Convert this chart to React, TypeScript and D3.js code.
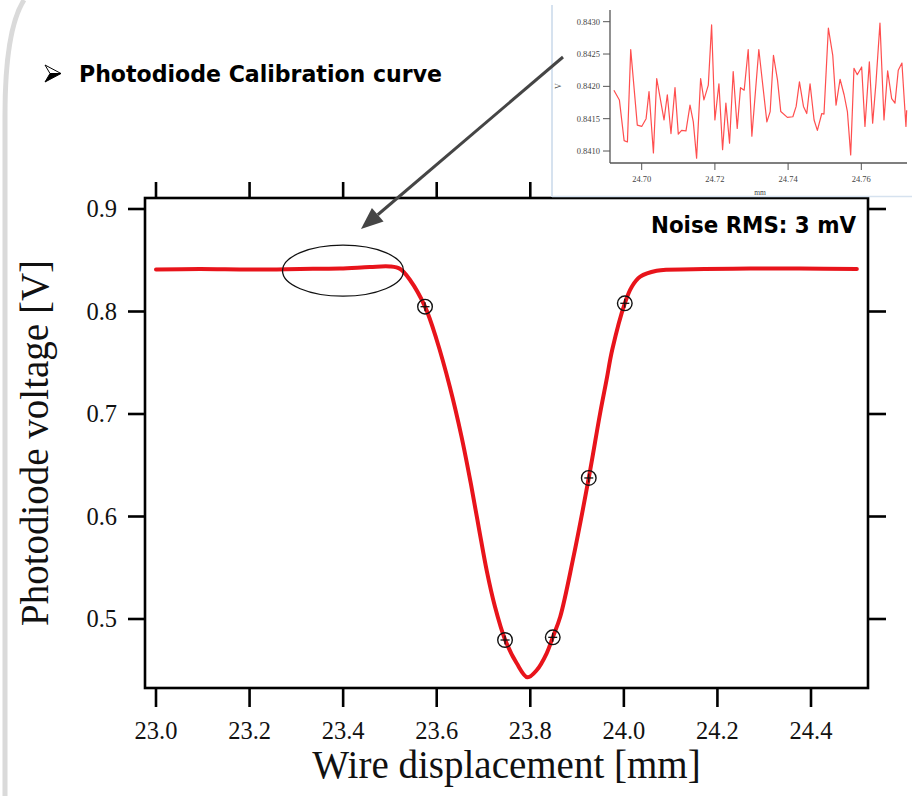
import React from "react";
import * as d3 from "d3";

// ---------- Main calibration curve ----------
const curveX = [23.0, 23.094, 23.201, 23.308, 23.393, 23.457, 23.5, 23.522, 23.543, 23.575, 23.6, 23.628, 23.653, 23.673, 23.69, 23.707, 23.724, 23.746, 23.771, 23.794, 23.814, 23.835, 23.848, 23.864, 23.891, 23.925, 23.949, 23.963, 23.975, 24.002, 24.017, 24.035, 24.07, 24.148, 24.27, 24.376, 24.498];
const curveV = [0.841, 0.8415, 0.841, 0.8415, 0.842, 0.8434, 0.8439, 0.8415, 0.8307, 0.8047, 0.7722, 0.7266, 0.678, 0.632, 0.589, 0.547, 0.513, 0.48, 0.4568, 0.4431, 0.4502, 0.4665, 0.4821, 0.5022, 0.5576, 0.6376, 0.7, 0.7332, 0.7624, 0.808, 0.8242, 0.834, 0.8398, 0.8412, 0.842, 0.842, 0.8415];

// calibration markers
const markerX = [23.575, 23.746, 23.848, 23.925, 24.002];
const markerV = [0.8047, 0.4795, 0.4821, 0.6376, 0.808];

const xTicks = [23.0, 23.2, 23.4, 23.6, 23.8, 24.0, 24.2, 24.4];
const yTicks = [0.5, 0.6, 0.7, 0.8, 0.9];

// ---------- Inset: noise zoom ----------
const insetX = [24.6924, 24.6939, 24.6952, 24.6961, 24.697, 24.6988, 24.7, 24.7012, 24.702, 24.7032, 24.7041, 24.7061, 24.707, 24.708, 24.7091, 24.71, 24.7109, 24.7121, 24.7132, 24.7141, 24.715, 24.7161, 24.717, 24.7182, 24.7191, 24.72, 24.7211, 24.7221, 24.723, 24.724, 24.725, 24.7261, 24.727, 24.728, 24.7291, 24.7301, 24.732, 24.7342, 24.7351, 24.736, 24.7371, 24.738, 24.7398, 24.7413, 24.7422, 24.7431, 24.7442, 24.7451, 24.746, 24.7471, 24.748, 24.7492, 24.7498, 24.751, 24.7522, 24.7531, 24.7542, 24.7553, 24.7562, 24.7571, 24.758, 24.7589, 24.7601, 24.761, 24.7622, 24.7631, 24.764, 24.7651, 24.7662, 24.7672, 24.7683, 24.7692, 24.7701, 24.7711, 24.7722, 24.7724];
const insetV = [0.84194, 0.84179, 0.84116, 0.84114, 0.84257, 0.8414, 0.84138, 0.8415, 0.84192, 0.84097, 0.84212, 0.84148, 0.84187, 0.84127, 0.84198, 0.84126, 0.84132, 0.84131, 0.84171, 0.84145, 0.84089, 0.84212, 0.84179, 0.84202, 0.84295, 0.84148, 0.84204, 0.84102, 0.84174, 0.84112, 0.84223, 0.84135, 0.84198, 0.84194, 0.84257, 0.84123, 0.84257, 0.84145, 0.84161, 0.84248, 0.8421, 0.84161, 0.84152, 0.84153, 0.84169, 0.84207, 0.84169, 0.84158, 0.84204, 0.84148, 0.84132, 0.84158, 0.84157, 0.8429, 0.84248, 0.84171, 0.84211, 0.84187, 0.84161, 0.84094, 0.84228, 0.84218, 0.8423, 0.84138, 0.84238, 0.84143, 0.84205, 0.84298, 0.84148, 0.84224, 0.84181, 0.84174, 0.84225, 0.84236, 0.84138, 0.84163];
const insetXTicks = [24.7, 24.72, 24.74, 24.76];
const insetYTicks = [0.841, 0.8415, 0.842, 0.8425, 0.843];

const title = "Photodiode Calibration curve";
const noiseLabel = "Noise RMS: 3 mV";
const xTitle = "Wire displacement [mm]";
const yTitle = "Photodiode voltage [V]";

export default function App() {
  const W = 912, H = 796;
  const L = 145, R = 868, T = 198, B = 688;
  const x = d3.scaleLinear().domain([23.0, 24.4]).range([156, 811]);
  const y = d3.scaleLinear().domain([0.5, 0.9]).range([619, 209]);

  const line = d3
    .line<number>()
    .x((_, i) => x(curveX[i]))
    .y((v) => y(v))
    .curve(d3.curveCatmullRom.alpha(0.5));

  const ix = d3.scaleLinear().domain([24.7, 24.76]).range([641.7, 861.3]);
  const iy = d3.scaleLinear().domain([0.841, 0.843]).range([151, 21.7]);
  const iLine = d3
    .line<number>()
    .x((_, i) => ix(insetX[i]))
    .y((v) => iy(v));

  const serif = "'Liberation Serif', 'Times New Roman', serif";
  const sans = "'DejaVu Sans', Verdana, sans-serif";
  const fmt1 = d3.format(".1f");

  const arrowStart = [563, 57];
  const arrowTip = [361, 229];
  const ang = Math.atan2(arrowTip[1] - arrowStart[1], arrowTip[0] - arrowStart[0]);
  const ahL = 22, ahW = 9;
  const baseX = arrowTip[0] - ahL * Math.cos(ang);
  const baseY = arrowTip[1] - ahL * Math.sin(ang);
  const px = -Math.sin(ang), py = Math.cos(ang);

  return (
    <svg width={W} height={H} style={{ position: "absolute", left: 0, top: 0, background: "#fff" }}>
      <rect x={0} y={0} width={W} height={H} fill="#fff" />
      {/* slide border decoration */}
      <path d="M 24 0 Q 5 30 5 115 L 5 796" fill="none" stroke="#dadada" strokeWidth={5} />

      {/* title with bullet */}
      <path d="M 45 65 L 61 73.5 L 50 73.5 Z" fill="#fff" stroke="#000" strokeWidth={1} />
      <path d="M 50 73.5 L 61 73.5 L 45 82 Z" fill="#000" stroke="#000" strokeWidth={1} />
      <text x={79} y={82} fontFamily={sans} fontWeight="bold" fontSize={22.5} textLength={363} lengthAdjust="spacingAndGlyphs" fill="#000">
        {title}
      </text>

      {/* main frame */}
      <rect x={L} y={T} width={R - L} height={B - T} fill="none" stroke="#000" strokeWidth={2.6} />

      {/* bottom & top ticks */}
      {xTicks.map((t) => (
        <g key={"xt" + t}>
          <line x1={x(t)} x2={x(t)} y1={B} y2={B + 19} stroke="#000" strokeWidth={2.6} />
          <line x1={x(t)} x2={x(t)} y1={T} y2={T - 16} stroke="#000" strokeWidth={2.6} />
          <text x={x(t)} y={739} textAnchor="middle" fontFamily={serif} fontSize={24.5} fill="#111">
            {fmt1(t)}
          </text>
        </g>
      ))}
      {/* left & right ticks */}
      {yTicks.map((t) => (
        <g key={"yt" + t}>
          <line x1={L} x2={L - 17} y1={y(t)} y2={y(t)} stroke="#000" strokeWidth={2.6} />
          <line x1={R} x2={R + 18} y1={y(t)} y2={y(t)} stroke="#000" strokeWidth={2.6} />
          <text x={117} y={y(t) + 8} textAnchor="end" fontFamily={serif} fontSize={24.5} fill="#111">
            {fmt1(t)}
          </text>
        </g>
      ))}

      {/* axis titles */}
      <text x={(L + R) / 2} y={778} textAnchor="middle" fontFamily={serif} fontSize={39} fill="#111">
        {xTitle}
      </text>
      <text transform={`translate(48, ${(T + B) / 2}) rotate(-90)`} textAnchor="middle" fontFamily={serif} fontSize={39} fill="#111">
        {yTitle}
      </text>

      {/* curve */}
      <path d={line(curveV) || ""} fill="none" stroke="#e8141b" strokeWidth={4} strokeLinejoin="round" strokeLinecap="round" />

      {/* markers */}
      {markerX.map((mx, i) => (
        <g key={"m" + i} transform={`translate(${x(mx)}, ${y(markerV[i])})`}>
          <circle r={7.3} fill="none" stroke="#111" strokeWidth={1.4} />
          <line x1={-4.5} x2={4.5} y1={0} y2={0} stroke="#111" strokeWidth={1.3} />
          <line x1={0} x2={0} y1={-4.5} y2={4.5} stroke="#111" strokeWidth={1.3} />
        </g>
      ))}

      {/* noise ellipse */}
      <ellipse cx={343} cy={270.7} rx={60.5} ry={25.5} fill="none" stroke="#111" strokeWidth={1.3} />

      {/* noise label */}
      <text x={856} y={233} textAnchor="end" fontFamily={sans} fontWeight="bold" fontSize={22.5} textLength={205} lengthAdjust="spacingAndGlyphs" fill="#000">
        {noiseLabel}
      </text>

      {/* inset */}
      <g>
        <rect x={552} y={0} width={360} height={197} fill="#fff" />
        <line x1={552} x2={552} y1={5} y2={197} stroke="#d6e2ef" strokeWidth={2} />
        <line x1={552} x2={912} y1={196.5} y2={196.5} stroke="#d6e2ef" strokeWidth={1.5} />
        <line x1={610} x2={610} y1={10} y2={163} stroke="#555" strokeWidth={1.3} />
        <line x1={610} x2={907} y1={163} y2={163} stroke="#555" strokeWidth={1.3} />
        {insetYTicks.map((t) => (
          <g key={"iy" + t}>
            <line x1={603} x2={610} y1={iy(t)} y2={iy(t)} stroke="#555" strokeWidth={1} />
            <text x={600} y={iy(t) + 3} textAnchor="end" fontFamily={serif} fontSize={8.5} fill="#444">
              {d3.format(".4f")(t)}
            </text>
          </g>
        ))}
        {insetXTicks.map((t) => (
          <g key={"ix" + t}>
            <line x1={ix(t)} x2={ix(t)} y1={163} y2={170} stroke="#555" strokeWidth={1} />
            <text x={ix(t)} y={182} textAnchor="middle" fontFamily={serif} fontSize={8.5} fill="#444">
              {d3.format(".2f")(t)}
            </text>
          </g>
        ))}
        <text x={760} y={195} textAnchor="middle" fontFamily={serif} fontSize={7.5} fill="#444">mm</text>
        <text transform="translate(561, 86) rotate(-90)" textAnchor="middle" fontFamily={serif} fontSize={8} fill="#444">V</text>
        <path d={iLine(insetV) || ""} fill="none" stroke="#ff3b3b" strokeWidth={1.2} strokeLinejoin="round" opacity={0.9} />
      </g>

      {/* arrow */}
      <line x1={arrowStart[0]} y1={arrowStart[1]} x2={baseX} y2={baseY} stroke="#454545" strokeWidth={3} />
      <path
        d={`M ${arrowTip[0]} ${arrowTip[1]} L ${baseX + px * ahW} ${baseY + py * ahW} L ${baseX - px * ahW} ${baseY - py * ahW} Z`}
        fill="#454545"
      />
    </svg>
  );
}
